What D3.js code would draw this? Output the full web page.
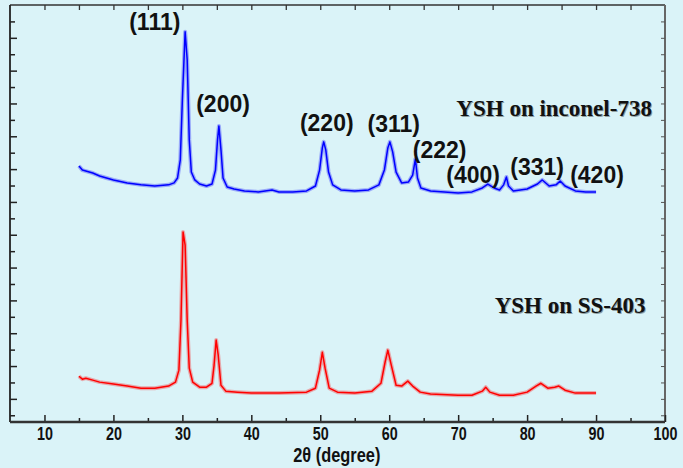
<!DOCTYPE html>
<html>
<head>
<meta charset="utf-8">
<script src="https://cdn.jsdelivr.net/npm/d3@7"></script>
<style>
    body { margin: 0; background: #daf3f8; }
    svg { display: block; }
    .tick text { font-family: "Liberation Sans", Arial, sans-serif; font-weight: bold; fill: #111; }
</style>
</head>
<body>
<script>
// 2 theta positions (degree) and intensity (a.u.)
var inconel = [
    [15.0, 1519], [15.5, 1494], [16, 1488], [17, 1476], [18, 1458], [19, 1446], [20, 1434],
    [22, 1416], [24, 1404], [26, 1397], [28, 1404], [28.8, 1416], [29.3, 1446], [29.7, 1556],
    [30.0, 1922], [30.4, 2337], [30.7, 2166], [31.0, 1678], [31.3, 1482], [31.8, 1434],
    [32.5, 1409], [33.5, 1397], [34.3, 1409], [34.8, 1494], [35.1, 1678], [35.3, 1763],
    [35.6, 1617], [35.9, 1446], [36.5, 1391], [37.5, 1379], [39, 1367], [41, 1361],
    [43, 1373], [44, 1361], [46, 1361], [48, 1367], [49.3, 1397], [49.9, 1494], [50.3, 1629],
    [50.5, 1666], [50.8, 1617], [51.2, 1482], [51.8, 1404], [53, 1373], [55, 1367],
    [57, 1373], [58.5, 1404], [59.3, 1494], [59.8, 1629], [60.1, 1666], [60.5, 1605],
    [61.0, 1482], [61.8, 1416], [62.8, 1422], [63.4, 1464], [63.8, 1562], [64.1, 1446],
    [64.6, 1385], [66, 1367], [68, 1361], [70, 1355], [72, 1361], [73.5, 1385], [74.3, 1409],
    [75.2, 1385], [76, 1373], [76.6, 1404], [77.0, 1452], [77.3, 1397], [78, 1367],
    [80, 1379], [81.5, 1409], [82.2, 1434], [83.2, 1397], [84.2, 1404], [84.8, 1428],
    [85.5, 1397], [87, 1367], [88.5, 1361], [90, 1361]
];

var ss403 = [
    [15.0, 238], [15.5, 220], [16, 226], [17, 214], [18, 202], [20, 190], [22, 178],
    [24, 165], [26, 165], [28, 178], [29, 202], [29.5, 275], [29.8, 580], [30.1, 1117],
    [30.4, 1037], [30.7, 580], [31.0, 287], [31.5, 202], [32.5, 171], [33.5, 171],
    [34.3, 195], [34.6, 306], [34.9, 458], [35.2, 366], [35.6, 183], [36.3, 147],
    [38, 141], [40, 135], [44, 135], [48, 141], [49.3, 165], [49.9, 275], [50.3, 384],
    [50.7, 287], [51.3, 165], [52.5, 141], [55, 135], [57.5, 147], [58.8, 195],
    [59.4, 323], [59.8, 397], [60.3, 306], [61.0, 183], [61.8, 178], [62.7, 208],
    [63.4, 178], [64.5, 141], [66, 129], [70, 122], [72, 122], [73.5, 147], [74.0, 171],
    [74.6, 141], [76, 122], [78, 122], [80, 141], [81.3, 178], [82.0, 195], [83.0, 165],
    [84.0, 171], [84.6, 178], [85.5, 153], [87, 135], [90, 135]
];

// peak indices with the spot (2 theta, intensity) where each label sits
var peakLabels = ["(111)", "(200)", "(220)", "(311)", "(222)", "(400)", "(331)", "(420)"];
var peakAt = [[26.0, 2349], [35.9, 1849], [50.94, 1733], [60.65, 1727],
              [67.32, 1568], [72.17, 1416], [81.45, 1465], [90.14, 1416]];

var seriesNames = ["YSH on inconel-738", "YSH on SS-403"];
var seriesAt = [[69.74, 1825], [75.29, 623]];

var xTicks = [10, 20, 30, 40, 50, 60, 70, 80, 90, 100];
var xMinor = [15, 25, 35, 45, 55, 65, 75, 85, 95];
var yTicks = d3.range(0, 2500, 100);

var width = 683, height = 468;
var margin = {top: 5, right: 18, bottom: 46, left: 10};

var svg = d3.select("body")
    .append("svg")
    .attr("width", width)
    .attr("height", height);

svg.append("rect")
    .attr("width", width)
    .attr("height", height)
    .attr("fill", "#daf3f8");

var x = d3.scaleLinear()
    .domain([5, 100])
    .range([margin.left, width - margin.right]);

var y = d3.scaleLinear()
    .domain([-41, 2500])
    .range([height - margin.bottom, margin.top]);

var x0 = margin.left, x1 = width - margin.right;
var y0 = height - margin.bottom, y1 = margin.top;

// frame
svg.append("line").attr("x1", x0).attr("x2", x1).attr("y1", y1).attr("y2", y1)
    .attr("stroke", "#333").attr("stroke-width", 1.5);
svg.append("line").attr("x1", x1).attr("x2", x1).attr("y1", y1).attr("y2", y0)
    .attr("stroke", "#666").attr("stroke-width", 2);
svg.append("line").attr("x1", x0).attr("x2", x0).attr("y1", y1).attr("y2", y0)
    .attr("stroke", "#222").attr("stroke-width", 1.8);

// left ticks, pointing inwards, alternating length
var leftAxis = svg.append("g")
    .attr("transform", "translate(" + x0 + ",0)")
    .call(d3.axisLeft(y).tickValues(yTicks).tickSize(-5).tickFormat(""));
leftAxis.select(".domain").remove();
leftAxis.selectAll(".tick line")
    .attr("x2", function(d) { return (d / 100) % 2 ? 7 : 5; })
    .attr("stroke", "#222").attr("stroke-width", 1.5);

// right ticks
var rightAxis = svg.append("g")
    .attr("transform", "translate(" + x1 + ",0)")
    .call(d3.axisRight(y).tickValues(yTicks).tickSize(-4).tickFormat(""));
rightAxis.select(".domain").remove();
rightAxis.selectAll(".tick line").attr("stroke", "#555");

// top ticks
var topAxis = svg.append("g")
    .attr("transform", "translate(0," + y1 + ")")
    .call(d3.axisTop(x).tickValues(xTicks.concat(xMinor).filter(function(d) { return d < 100; }))
        .tickSize(-5).tickFormat(""));
topAxis.select(".domain").remove();
topAxis.selectAll(".tick line").attr("stroke", "#333").attr("stroke-width", 1.3);

// bottom axis with labels
var bottomAxis = svg.append("g")
    .attr("transform", "translate(0," + y0 + ")")
    .call(d3.axisBottom(x).tickValues(xTicks).tickSize(-7).tickPadding(0));
bottomAxis.select(".domain").remove();
bottomAxis.selectAll(".tick line").attr("stroke", "#222").attr("stroke-width", 1.5);
bottomAxis.selectAll(".tick text")
    .attr("y", 18.5)
    .attr("dy", 0)
    .attr("font-size", 17.5)
    .attr("transform", "scale(0.82,1)");

var minorAxis = svg.append("g")
    .attr("transform", "translate(0," + y0 + ")")
    .call(d3.axisBottom(x).tickValues(xMinor).tickSize(-4).tickFormat(""));
minorAxis.select(".domain").remove();
minorAxis.selectAll(".tick line").attr("stroke", "#222").attr("stroke-width", 1.5);

svg.append("line").attr("x1", x0).attr("x2", x1).attr("y1", y0).attr("y2", y0)
    .attr("stroke", "#333").attr("stroke-width", 2.5);

// x axis title
svg.append("text")
    .attr("transform", "translate(" + x(52.4) + "," + (y0 + 40) + ") scale(0.8,1)")
    .attr("text-anchor", "middle")
    .attr("font-family", "'Liberation Sans', Arial, sans-serif")
    .attr("font-weight", "bold")
    .attr("font-size", 20.5)
    .attr("fill", "#111")
    .text("2\u03b8 (degree)");

// the two diffraction patterns
var line = d3.line()
    .x(function(d) { return x(d[0]); })
    .y(function(d) { return y(d[1]); });

[[inconel, "#0000ff"], [ss403, "#ff0000"]].forEach(function(s) {
    svg.append("path")
        .datum(s[0])
        .attr("d", line)
        .attr("fill", "none")
        .attr("stroke", s[1])
        .attr("stroke-opacity", 0.3)
        .attr("stroke-width", 4)
        .attr("stroke-linejoin", "round");
    svg.append("path")
        .datum(s[0])
        .attr("d", line)
        .attr("fill", "none")
        .attr("stroke", s[1])
        .attr("stroke-width", 1.5)
        .attr("stroke-linejoin", "round");
});

// peak labels
svg.selectAll(".peak")
    .data(peakLabels)
    .enter()
    .append("text")
    .attr("class", "peak")
    .attr("x", function(d, i) { return x(peakAt[i][0]); })
    .attr("y", function(d, i) { return y(peakAt[i][1]); })
    .attr("text-anchor", "middle")
    .attr("font-family", "'Liberation Sans', Arial, sans-serif")
    .attr("font-weight", "bold")
    .attr("font-size", 23)
    .attr("fill", "#111")
    .text(function(d) { return d; });

// series names
svg.selectAll(".series")
    .data(seriesNames)
    .enter()
    .append("text")
    .attr("class", "series")
    .attr("x", function(d, i) { return x(seriesAt[i][0]); })
    .attr("y", function(d, i) { return y(seriesAt[i][1]); })
    .attr("font-family", "'Liberation Serif', 'Times New Roman', serif")
    .attr("font-weight", "bold")
    .attr("font-size", 23)
    .attr("fill", "#111")
    .style("text-shadow", "1px 1px 0 rgba(0,0,0,0.35)")
    .text(function(d) { return d; });
</script>
</body>
</html>
